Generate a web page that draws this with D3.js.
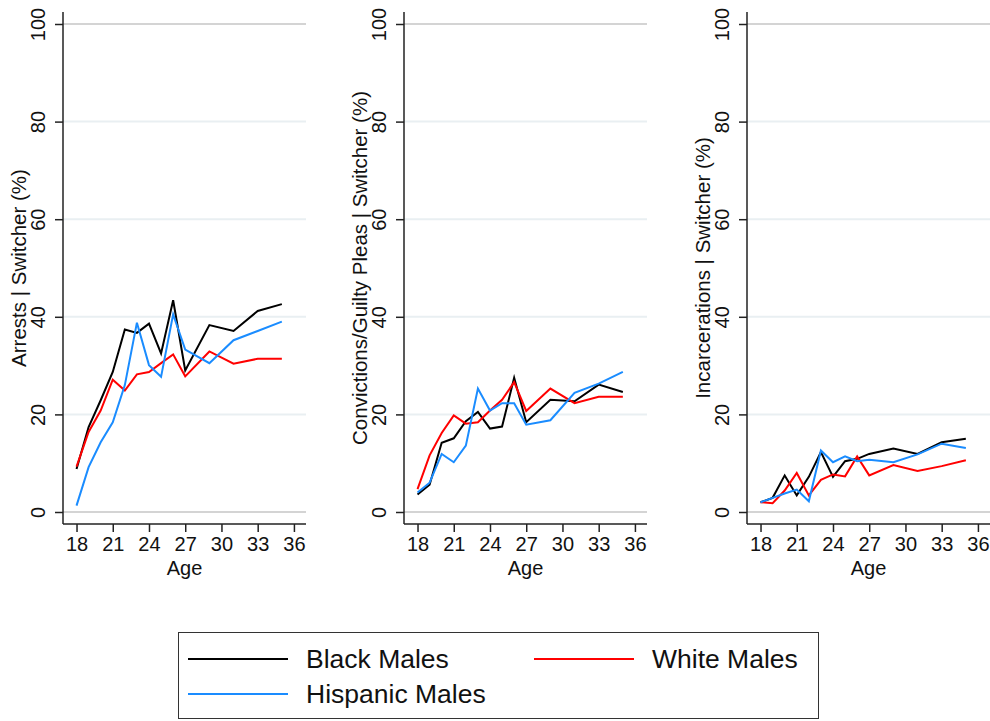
<!DOCTYPE html>
<html>
<head>
<meta charset="utf-8">
<script src="https://cdn.jsdelivr.net/npm/d3@7"></script>
<style>
    body { margin: 0; background: #fff; }
    svg { font-family: "Liberation Sans", Arial, sans-serif; }
</style>
</head>
<body>
<script>
//three panel line chart - switchers by age

//ages on the x axis
var ages = [18, 19, 20, 21, 22, 23, 24, 25, 26, 27, 29, 31, 33, 35];

//arrests panel
var arrestsBlack    = [8.8, 17.4, 22.9, 28.7, 37.4, 36.7, 38.6, 32.5, 43.4, 29.0, 38.3, 37.1, 41.2, 42.6];
var arrestsWhite    = [9.3, 16.4, 20.8, 27.1, 24.9, 28.2, 28.7, 30.5, 32.3, 27.8, 32.9, 30.4, 31.4, 31.4];
var arrestsHispanic = [1.3, 9.2, 14.3, 18.4, 26.0, 38.8, 30.1, 27.7, 40.5, 33.3, 30.5, 35.2, 37.1, 39.0];

//convictions panel
var convBlack    = [3.6, 5.6, 14.2, 15.1, 18.6, 20.5, 17.1, 17.5, 27.5, 18.4, 23.0, 22.7, 26.1, 24.6];
var convWhite    = [4.7, 11.6, 16.2, 19.8, 18.1, 18.4, 20.8, 23.0, 26.6, 20.7, 25.3, 22.3, 23.6, 23.6];
var convHispanic = [4.0, 6.0, 11.9, 10.2, 13.6, 25.3, 20.8, 22.3, 22.3, 17.9, 18.8, 24.4, 26.3, 28.7];

//incarcerations panel
var incBlack    = [2.0, 2.9, 7.5, 3.4, 7.2, 12.3, 7.2, 10.4, 10.9, 11.9, 13.0, 11.9, 14.3, 15.0];
var incWhite    = [2.0, 1.8, 4.4, 8.0, 3.4, 6.6, 7.7, 7.3, 11.4, 7.5, 9.6, 8.4, 9.4, 10.6];
var incHispanic = [2.0, 2.9, 3.8, 4.6, 2.2, 12.6, 10.2, 11.4, 10.4, 10.7, 10.2, 11.8, 14.0, 13.1];

var panelTitles = ["Arrests | Switcher (%)", "Convictions/Guilty Pleas | Switcher (%)", "Incarcerations | Switcher (%)"];
var seriesNames = ["Black Males", "White Males", "Hispanic Males"];
var yTicks = [0, 20, 40, 60, 80, 100];
var xTicks = [18, 21, 24, 27, 30, 33, 36];

(function (){

    var colors = ["#000000", "#ff0000", "#1a8cff"];

    var panels = [
        [arrestsBlack, arrestsWhite, arrestsHispanic],
        [convBlack, convWhite, convHispanic],
        [incBlack, incWhite, incHispanic]
    ];

    //left edge of each plot region
    var panelLeft = [63, 404, 747],
        panelWidth = 243,
        plotTop = 24,
        plotBottom = 512,
        xAxisY = 524;

    var svg = d3.select("body")
        .append("svg")
        .attr("width", 990)
        .attr("height", 721);

    panels.forEach(function(series, p){
        var x0 = panelLeft[p];

        var xScale = d3.scaleLinear()
            .domain([16.88, 37.0])
            .range([x0, x0 + panelWidth]);

        var yScale = d3.scaleLinear()
            .domain([0, 100])
            .range([plotBottom, plotTop]);

        var g = svg.append("g").attr("class", "panel");

        //gridlines
        g.selectAll(".grid")
            .data(yTicks)
            .enter()
            .append("line")
            .attr("class", "grid")
            .attr("x1", x0)
            .attr("x2", x0 + panelWidth)
            .attr("y1", function(d){ return yScale(d); })
            .attr("y2", function(d){ return yScale(d); })
            .style("stroke", function(d){ return (d == 0 || d == 100) ? "#d4d4d4" : "#e9eff2"; })
            .style("stroke-width", 2);

        //lines
        var line = d3.line()
            .x(function(d, i){ return xScale(ages[i]); })
            .y(function(d){ return yScale(d); });

        g.selectAll(".series")
            .data(series)
            .enter()
            .append("path")
            .attr("class", "series")
            .attr("d", line)
            .style("fill", "none")
            .style("stroke", function(d, i){ return colors[i]; })
            .style("stroke-width", 2)
            .style("stroke-linejoin", "miter");

        //y axis
        var yAxis = d3.axisLeft(yScale)
            .tickValues(yTicks)
            .tickSize(8)
            .tickPadding(4);

        var ya = g.append("g")
            .attr("transform", "translate(" + x0 + ",0)")
            .call(yAxis);
        ya.select(".domain").remove();
        ya.append("line")
            .attr("x1", 0).attr("x2", 0)
            .attr("y1", 12).attr("y2", xAxisY)
            .style("stroke", "#222").style("stroke-width", 1.5);
        ya.selectAll(".tick line").style("stroke", "#222").style("stroke-width", 1.5);
        ya.selectAll(".tick text")
            .attr("x", 0).attr("y", 0)
            .attr("dy", null)
            .attr("transform", "translate(-25,0) rotate(-90)")
            .attr("text-anchor", "middle")
            .attr("dominant-baseline", "central")
            .style("font-size", "20px")
            .style("fill", "#111");

        //x axis
        var xAxis = d3.axisBottom(xScale)
            .tickValues(xTicks)
            .tickSize(8)
            .tickPadding(5);

        var xa = g.append("g")
            .attr("transform", "translate(0," + xAxisY + ")")
            .call(xAxis);
        xa.select(".domain").remove();
        xa.append("line")
            .attr("x1", x0).attr("x2", x0 + panelWidth)
            .attr("y1", 0).attr("y2", 0)
            .style("stroke", "#222").style("stroke-width", 1.5);
        xa.selectAll(".tick line").style("stroke", "#222").style("stroke-width", 1.5);
        xa.selectAll(".tick text")
            .style("font-size", "20px")
            .style("fill", "#111");

        //axis titles
        g.append("text")
            .attr("x", x0 + panelWidth / 2)
            .attr("y", 575)
            .attr("text-anchor", "middle")
            .style("font-size", "20px")
            .style("fill", "#111")
            .text("Age");

        g.append("text")
            .attr("transform", "translate(" + (x0 - 45) + "," + ((plotTop + plotBottom) / 2) + ") rotate(-90)")
            .attr("text-anchor", "middle")
            .attr("dominant-baseline", "central")
            .style("font-size", "20.5px")
            .style("fill", "#111")
            .text(panelTitles[p]);
    });

    //legend
    var legend = svg.append("g").attr("class", "legend");

    legend.append("rect")
        .attr("x", 178.5)
        .attr("y", 632.5)
        .attr("width", 640)
        .attr("height", 86)
        .style("fill", "#fff")
        .style("stroke", "#333")
        .style("stroke-width", 1);

    var legendPos = [[188, 659], [534, 659], [188, 694]];

    var items = legend.selectAll(".item")
        .data(seriesNames)
        .enter()
        .append("g")
        .attr("class", "item")
        .attr("transform", function(d, i){
            return "translate(" + legendPos[i][0] + "," + legendPos[i][1] + ")";
        });

    items.append("line")
        .attr("x1", 0).attr("x2", 100)
        .attr("y1", 0).attr("y2", 0)
        .style("stroke", function(d, i){ return colors[i]; })
        .style("stroke-width", 2);

    items.append("text")
        .attr("x", 118)
        .attr("y", 0)
        .attr("dominant-baseline", "central")
        .style("font-size", "26.5px")
        .style("fill", "#111")
        .text(function(d){ return d; });

})();
</script>
</body>
</html>
